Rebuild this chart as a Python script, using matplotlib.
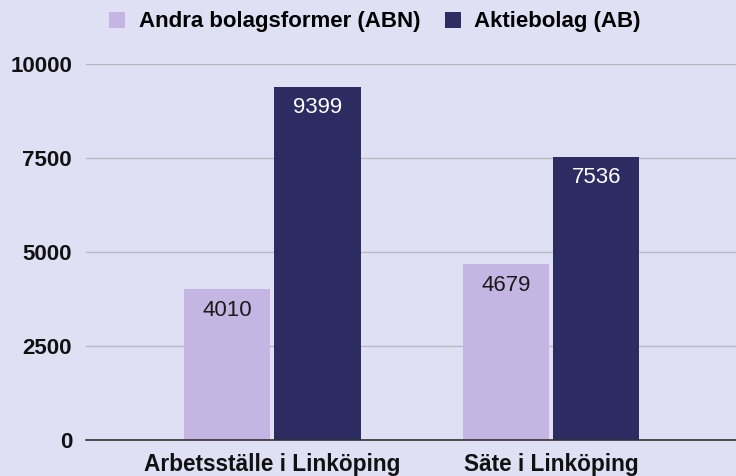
import matplotlib
matplotlib.use("Agg")
import matplotlib.pyplot as plt
import numpy as np
from matplotlib.patches import Patch

categories = ["Arbetsställe i Linköping", "Säte i Linköping"]
series_names = ["Andra bolagsformer (ABN)", "Aktiebolag (AB)"]
abn_values = [4010, 4679]
ab_values = [9399, 7536]
yticks = [0, 2500, 5000, 7500, 10000]

bg = "#dfe0f3"
c_light = "#c5b5e3"
c_dark = "#2c2c63"

plt.rcParams['font.family'] = ['Liberation Sans', 'DejaVu Sans']

fig = plt.figure(figsize=(7.36, 4.76), dpi=100, facecolor=bg)
ax = fig.add_axes([86/736, 36/476, 1 - 86/736, (440-64)/476])
ax.set_facecolor(bg)

x = np.arange(len(categories))
w = 0.31
gap = 0.007
b1 = ax.bar(x - w/2 - gap, abn_values, width=w, color=c_light, zorder=3)
b2 = ax.bar(x + w/2 + gap, ab_values, width=w, color=c_dark, zorder=3)

for bars, col in ((b1, "#1a1a1a"), (b2, "white")):
    for rect in bars:
        h = rect.get_height()
        ax.annotate(f"{int(h)}", (rect.get_x() + rect.get_width()/2, h),
                    xytext=(0, -21), textcoords="offset pixels",
                    ha="center", va="center", fontsize=16, color=col, zorder=4)

ax.set_xlim(-0.667, 1.663)
ax.set_ylim(0, 10000)
ax.set_yticks(yticks)
ax.set_yticklabels([str(t) for t in yticks], fontsize=16, fontweight="bold", color="#111111")
ax.set_xticks(x)
ax.set_xticklabels(categories, fontsize=16.3, fontweight="bold", color="#111111")
ax.tick_params(axis="both", length=0)
ax.tick_params(axis="y", pad=10)
ax.tick_params(axis="x", pad=9.5)

ax.yaxis.grid(True, color="#b8b8c2", linewidth=1.0, zorder=0)
for s in ["top", "right", "left"]:
    ax.spines[s].set_visible(False)
ax.spines["bottom"].set_color("#333333")
ax.spines["bottom"].set_linewidth(1.2)
ax.spines["bottom"].set_zorder(5)

handles = [Patch(facecolor=c_light, label=series_names[0]),
           Patch(facecolor=c_dark, label=series_names[1])]
leg = fig.legend(handles=handles, loc="center", bbox_to_anchor=(375/736, 1 - 22/476),
                 ncol=2, frameon=False, borderpad=0.0,
                 prop={"size": 16, "weight": "bold"},
                 handlelength=0.74, handleheight=0.74, handletextpad=0.6, columnspacing=1.1)

fig.savefig("out.png", dpi=100, facecolor=bg)
